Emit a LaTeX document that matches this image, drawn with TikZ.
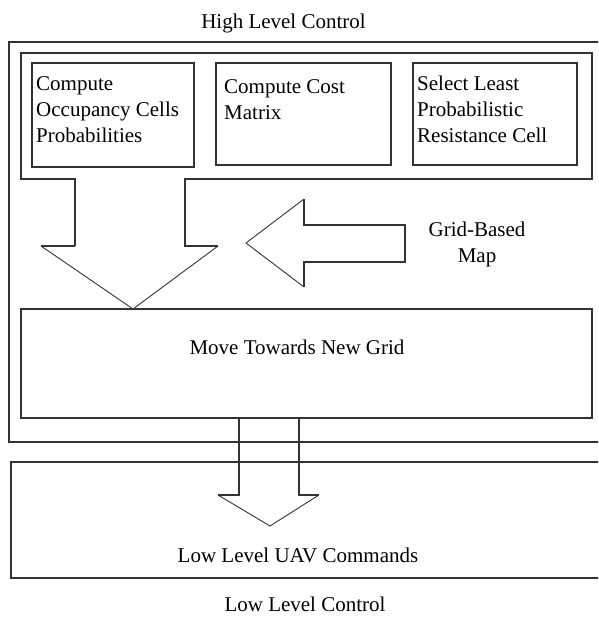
\documentclass[tikz,border=0pt]{standalone}
\usepackage{fontspec}
\setmainfont{Liberation Serif}
\begin{document}
\begin{tikzpicture}[x=1pt,y=-1pt,line join=miter,
  frame/.style={draw=black!80,line width=1.6pt},
  thin/.style={draw=black!80,line width=0.9pt},
  box/.style={frame,inner sep=0pt,outer sep=0pt,anchor=north west},
  txt/.style={font=\fontsize{21}{26}\selectfont,inner sep=0pt,text=black},
  multi/.style={txt,align=left,anchor=base west}]
\useasboundingbox (0,0) rectangle (598,619);
\clip (0,0) rectangle (598,619);

% titles
\node[txt,anchor=base] (hlc) at (283.5,28) {High Level Control};
\node[txt,anchor=base] (llc) at (305,611) {Low Level Control};

% outer frames
\node[box,minimum width=620pt,minimum height=400pt] (high) at (9,42) {};
\node[box,minimum width=620pt,minimum height=116pt] (low) at (11,462) {};

% inner boxes
\node[box,minimum width=162pt,minimum height=104pt] (occ) at (32,63) {};
\node[box,minimum width=175pt,minimum height=102pt] (cost) at (216,63) {};
\node[box,minimum width=164pt,minimum height=102pt] (sel) at (413,63) {};
\node[multi] (occt) at (36,142) {Compute\\Occupancy Cells\\Probabilities};
\node[multi] (costt) at (224,119) {Compute Cost\\Matrix};
\node[multi] (selt) at (417,142) {Select Least\\Probabilistic\\Resistance Cell};

% move box
\node[box,minimum width=571pt,minimum height=109pt] (move) at (21,309) {};
\node[txt,anchor=base] (movet) at (297,354) {Move Towards New Grid};
\node[txt,anchor=base] (lowt) at (298,562) {Low Level UAV Commands};

% grid-based map label
\node[txt,align=center,anchor=base] (map) at (477,262) {Grid-Based\\Map};

% inner frame merged with the down arrow
\coordinate (tip1) at (133,309);
\draw[frame] (75,246) -- (75,179) -- (21,179) -- (21,53) -- (592,53) -- (592,179) -- (185,179) -- (185,246) -- (218,246);
\draw[frame] (41,246) -- (75,246);
\draw[thin] (41,246) -- (tip1 |- move.north) -- (218,246);

% left arrow from the map
\coordinate (tip2) at (246,243);
\draw[frame] (304,199) -- (304,225) -- (405,225) -- (405,262) -- (304,262) -- (304,287);
\draw[thin] (304,199) -- (tip2) -- (304,287);

% down arrow to low level
\coordinate (tip3) at (270,526);
\draw[frame] (move.south -| 239,0) -- (239,495) -- (218,495);
\draw[frame] (move.south -| 299,0) -- (299,495) -- (319,495);
\draw[thin] (218,495) -- (tip3) -- (319,495);
\end{tikzpicture}
\end{document}
